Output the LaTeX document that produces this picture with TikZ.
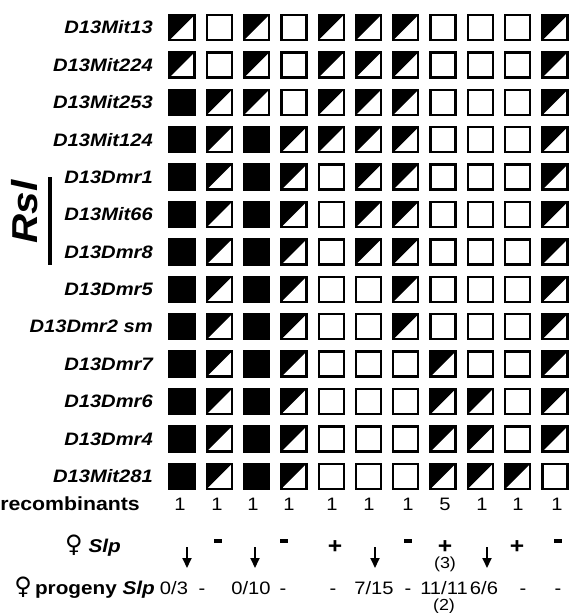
\documentclass[tikz,border=0pt]{standalone}
\usepackage{fontspec}
\setmainfont{Liberation Sans}[FakeStretch=1.12]
\newfontfamily\symfont{DejaVu Sans}
\newcommand\femsign{{\symfont\bfseries\fontsize{24}{24}\selectfont ♀}}
\usetikzlibrary{arrows.meta, positioning, calc}

\begin{document}
\begin{tikzpicture}[
  x=1pt, y=-1pt,
  >={Triangle[length=10pt, width=9pt]},
  gt/.style={draw, line width=2.3pt, minimum size=25pt, inner sep=0pt},
  gtB/.style={gt, fill=black},
  gtW/.style={gt},
  gtH/.style={gt, path picture={
      \fill (path picture bounding box.north west) -- (path picture bounding box.north east)
            -- (path picture bounding box.south west) -- cycle;}},
  mk/.style={font=\fontsize{18}{18}\selectfont\bfseries\itshape, anchor=east, inner sep=0pt},
  val/.style={font=\fontsize{18}{18}\selectfont, anchor=base, inner sep=0pt},
  lbl/.style={font=\fontsize{18.5}{19}\selectfont\bfseries, anchor=base east, inner sep=0pt},
  minus/.style={fill=black, minimum width=8pt, minimum height=4.5pt, inner sep=0pt},
  plus/.style={font=\fontsize{22}{22}\selectfont\bfseries, anchor=base, inner sep=0pt},
  arr/.style={->, line width=1.8pt},
]
\useasboundingbox (0,0) rectangle (569,613);

% marker rows
\foreach \mname/\pat [count=\r] in {
    D13Mit13/{H,W,H,W,H,H,H,W,W,W,H},
    D13Mit224/{H,W,H,W,H,H,H,W,W,W,H},
    D13Mit253/{B,H,H,W,H,H,H,W,W,W,H},
    D13Mit124/{B,H,B,H,H,H,H,W,W,W,H},
    D13Dmr1/{B,H,B,H,W,H,H,W,W,W,H},
    D13Mit66/{B,H,B,H,W,H,H,W,W,W,H},
    D13Dmr8/{B,H,B,H,W,H,H,W,W,W,H},
    D13Dmr5/{B,H,B,H,W,W,H,W,W,W,H},
    D13Dmr2 sm/{B,H,B,H,W,W,H,W,W,W,H},
    D13Dmr7/{B,H,B,H,W,W,W,H,W,W,H},
    D13Dmr6/{B,H,B,H,W,W,W,H,H,W,H},
    D13Dmr4/{B,H,B,H,W,W,W,H,H,W,H},
    D13Mit281/{B,H,B,H,W,W,W,H,H,H,W}} {
  \node[mk] (name\r) at (153, {27.5+37.4*(\r-1)}) {\mname};
  \foreach \g [count=\c] in \pat
    \node[gt\g] (g\r-\c) at ({182+37.3*(\c-1)}, {27.5+37.4*(\r-1)}) {};
}

% Rsl interval
\node[rotate=90, font=\fontsize{36}{36}\selectfont\bfseries\itshape, inner sep=0pt] (rsl) at (25,212) {Rsl};
\draw[line width=4.5pt] (50,177) -- (50,265);

% recombinants
\node[lbl, font=\fontsize{19}{19}\selectfont\bfseries] (reclbl) at (140,510) {recombinants};
\foreach \n/\x [count=\c] in {1/180,1/217,1/253,1/289,1/332,1/369,1/408,5/445,1/482,1/518,1/557}
  \node[val] (rec\c) at (\x,510) {\n};

% female Slp
\node[lbl] (slplbl) at (121,552) {\femsign\ \itshape Slp};
\foreach \x [count=\k] in {187,255,375,487} {
  \coordinate (dn\k a) at (\x,547);
  \coordinate (dn\k b) at (\x,568);
  \draw[arr] (dn\k a) -- (dn\k b);
}
\foreach \x [count=\k] in {218,284,408,558}
  \node[minus] (neg\k) at (\x,541) {};
\foreach \x [count=\k] in {335,445,517}
  \node[plus] (pos\k) at (\x,553) {+};
\node[val, font=\fontsize{16}{16}\selectfont] (n3) at (445,568) {(3)};

% female progeny Slp
\node[lbl] (proglbl) at (155,594) {\femsign\,progeny \itshape Slp};
\foreach \t/\x [count=\c] in {{0/3}/174,-/202,{0/10}/251,-/283,-/333,{7/15}/374,-/408,{11/11}/444,{6/6}/484,-/523,-/558}
  \node[val] (prog\c) at (\x,594) {\t};
\node[val, font=\fontsize{16}{16}\selectfont] (n2) at (444,610) {(2)};
\end{tikzpicture}
\end{document}
